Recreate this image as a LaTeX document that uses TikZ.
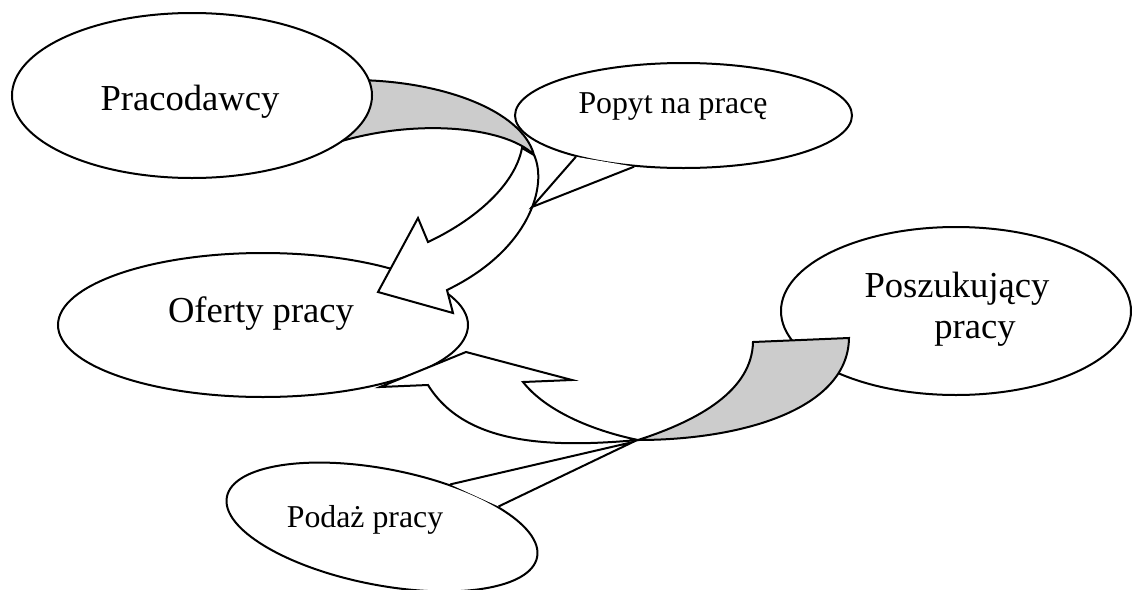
\documentclass[tikz,border=0pt]{standalone}
\usepackage{fontspec}
\setmainfont{Liberation Serif}
\usetikzlibrary{shapes.geometric}

\definecolor{ribbongrey}{RGB}{204,204,204}

\begin{document}
\begin{tikzpicture}[
    x=0.5pt, y=-0.5pt,
    blob/.style={ellipse, draw, fill=white, line width=1pt, inner sep=0pt},
    ribbon/.style={draw, line width=1pt, line join=miter},
    calloutline/.style={line width=1pt, line join=miter},
    bigtext/.style={font=\fontsize{18.3}{22}\selectfont, inner sep=0pt, anchor=base},
    smalltext/.style={font=\fontsize{15.9}{19}\selectfont, inner sep=0pt, anchor=base},
]
\useasboundingbox (0,0) rectangle (1132,590);

% ellipses lying under the arrows
\node[blob, minimum width=205pt, minimum height=72pt] (oferty) at (263,325) {};
\node[blob, minimum width=175pt, minimum height=84pt] (poszuk) at (956,311) {};

% arrow from employers: grey back face, then white front with head
\filldraw[ribbon, fill=ribbongrey] (352,80)
  .. controls (440,80) and (522,110) .. (534,155)
  .. controls (505,125) and (400,115) .. (310,152)
  -- cycle;
\filldraw[ribbon, fill=white] (534,155)
  .. controls (548,185) and (530,250) .. (447,290)
  -- (453,313) -- (378,292) -- (418,218) -- (428,242)
  .. controls (475,220) and (515,185) .. (522,148)
  -- cycle;

% arrow from job seekers
\filldraw[ribbon, fill=ribbongrey] (753,342) -- (849,338)
  .. controls (848,410) and (740,440) .. (638,440)
  .. controls (700,420) and (752,390) .. (753,342)
  -- cycle;
\filldraw[ribbon, fill=white] (638,440)
  .. controls (550,448) and (465,445) .. (428,385)
  -- (380,387) -- (466,352) -- (572,380) -- (523,382)
  .. controls (545,410) and (590,430) .. (638,440)
  -- cycle;

% ellipses on top
\node[blob, minimum width=180pt, minimum height=82.5pt] (pracodawcy) at (192,95.5) {};

% callout: demand
\node[blob, minimum width=168.5pt, minimum height=52.5pt] (popyt) at (683.5,115.5) {};
\coordinate (popyt tip) at (532,207);
\fill[white] (popyt.201) -- (popyt tip) -- (popyt.226) -- cycle;
\draw[calloutline] (popyt.201) -- (popyt tip) -- (popyt.226);

% callout: supply
\node[blob, rotate=-11, minimum width=158pt, minimum height=58pt] (podaz) at (382,527) {};
\coordinate (podaz tip) at (633,442);
\fill[white] (podaz.43) -- (podaz tip) -- (podaz.21) -- cycle;
\draw[calloutline] (podaz.43) -- (podaz tip) -- (podaz.21);

% labels
\node[bigtext] (t-pracodawcy) at (190,110) {Pracodawcy};
\node[bigtext] (t-oferty) at (261,322) {Oferty pracy};
\node[bigtext] (t-poszuk) at (957,297) {Poszukujący};
\node[bigtext] (t-pracy) at (975,338) {pracy};
\node[smalltext] (t-popyt) at (673,113) {Popyt na pracę};
\node[smalltext] (t-podaz) at (365,527) {Podaż pracy};

\end{tikzpicture}
\end{document}
